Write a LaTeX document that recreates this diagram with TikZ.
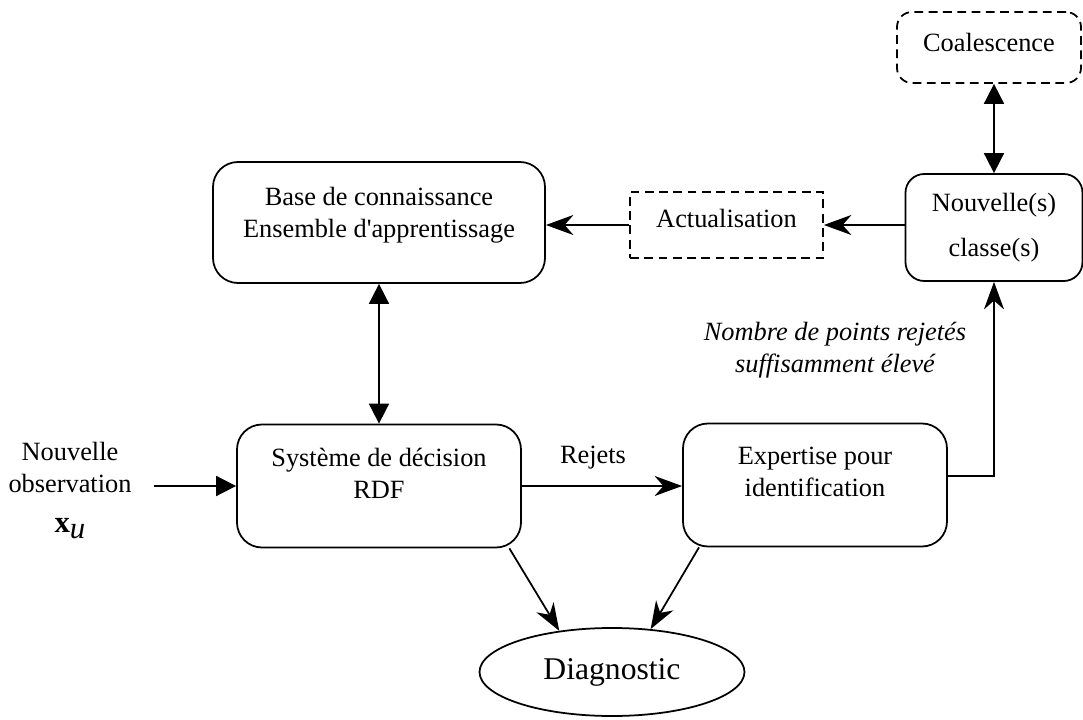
\documentclass[tikz,border=0pt]{standalone}
\usepackage{fontspec}
\setmainfont{Liberation Serif}
\usetikzlibrary{arrows.meta,shapes.geometric}

\begin{document}
\begin{tikzpicture}[
    box/.style={
        rectangle,
        draw,
        thick,
        rounded corners=0.4cm,
        align=center,
        inner sep=0pt
    },
    dashbox/.style={
        box,
        dash pattern=on 4pt off 2.5pt
    },
    flow/.style={thick, -{Stealth[length=4.4mm,width=3.2mm,inset=1.4mm]}},
    link/.style={thick, {Triangle[length=3.2mm,width=3.2mm]}-{Triangle[length=3.2mm,width=3.2mm]}},
    font=\fontsize{12}{14.4}\selectfont
]
\useasboundingbox (0,0) rectangle (17.328,-11.52);

% Knowledge base
\node[box,
      minimum width=5.312cm,
      minimum height=1.936cm,
      text depth=0.33cm] (base) at (6.064,-3.56)
      {Base de connaissance\\Ensemble d\textquotesingle apprentissage};

% Update
\node[dashbox,
      sharp corners,
      minimum width=3.088cm,
      minimum height=1.056cm,
      text depth=0.22cm] (maj) at (11.624,-3.6)
      {Actualisation};

% New classes
\node[box,
      rounded corners=0.3cm,
      minimum width=2.832cm,
      minimum height=1.712cm] (nouv) at (15.904,-3.64)
      {Nouvelle(s)\\[6pt]classe(s)};

% Clustering
\node[dashbox,
      rounded corners=0.24cm,
      minimum width=2.944cm,
      minimum height=1.136cm,
      text depth=0.16cm] (coal) at (15.824,-0.76)
      {Coalescence};

% Decision system
\node[box,
      minimum width=4.544cm,
      minimum height=1.968cm,
      text depth=0.4cm] (sys) at (6.064,-7.776)
      {Système de décision\\RDF};

% Expert
\node[box,
      minimum width=4.224cm,
      minimum height=1.968cm,
      text depth=0.43cm] (expert) at (13.04,-7.76)
      {Expertise pour\\identification};

% Output
\node[ellipse,
      draw,
      thick,
      inner sep=0pt,
      minimum width=4.24cm,
      minimum height=1.408cm,
      font=\fontsize{14.4}{17}\selectfont] (diag) at (9.792,-10.752)
      {Diagnostic};

% Input and labels
\node[align=center, inner xsep=0.35cm] (obs) at (1.12,-7.85)
      {Nouvelle\\observation\\[4pt]{\fontsize{14}{16}\selectfont\textbf{x}\raisebox{-0.45ex}{\textit{u}}}};
\node (rej) at (9.488,-7.328) {Rejets};
\node[align=center, font=\fontsize{12}{14.4}\selectfont\itshape] (cond) at (13.36,-5.6)
      {Nombre de points rejetés\\suffisamment élevé};

% Connectors
\draw[link] (nouv.north |- coal.south) -- (nouv.north);
\draw[flow] (maj.east -| nouv.west) -- (maj.east);
\draw[flow] (maj.west) -- (maj.west -| base.east);
\draw[link] (base.south) -- (sys.north);
\draw[thick, -{Triangle[length=3.2mm,width=3.2mm]}] (obs.east |- sys.west) -- (sys.west);
\draw[flow] (sys.east) -- (sys.east -| expert.west);
\draw[flow] ([yshift=0.15cm]expert.east) -| (nouv.south);
\draw[flow] ([xshift=-0.2cm]sys.south east) -- (diag.142);
\draw[flow] ([xshift=0.27cm]expert.south west) -- (diag.48);

\end{tikzpicture}
\end{document}
